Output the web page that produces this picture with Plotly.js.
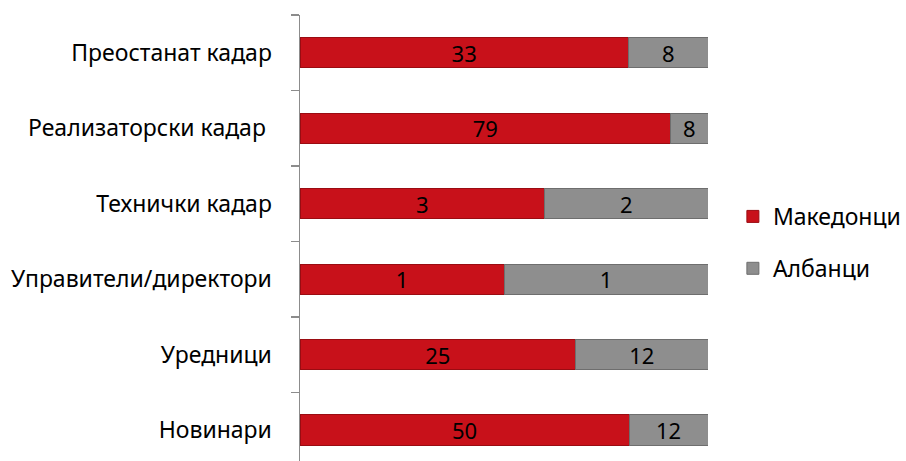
<!DOCTYPE html>
<html><head><meta charset="utf-8">
<script src="https://cdn.plot.ly/plotly-3.0.1.min.js"></script>
<style>body{margin:0;background:#fff}#chart{width:906px;height:461px}</style>
</head><body><div id="chart"></div>
<script>
const categories = ["Новинари","Уредници","Управители/директори","Технички кадар","Реализаторски кадар ","Преостанат кадар"];
const makedonci = [50,25,1,3,79,33];
const albanci = [12,12,1,2,8,8];
const seriesNames = ["Македонци","Албанци"];

const FONT = "Noto Sans, DejaVu Sans, sans-serif";
const traces = [
  {type:'bar', orientation:'h', y:categories, x:makedonci, name:seriesNames[0], legendgroup:'a',
   text:makedonci.map(String), texttemplate:'%{text}', textposition:'inside', insidetextanchor:'middle', textangle:0,
   constraintext:'none',
   textfont:{color:'#000', size:22, family:FONT},
   marker:{color:'#c8111a', line:{color:'#9a0c12', width:1}}, hoverinfo:'none'},
  {type:'bar', orientation:'h', y:categories, x:albanci, name:seriesNames[1], legendgroup:'b',
   text:albanci.map(String), texttemplate:'%{text}', textposition:'inside', insidetextanchor:'middle', textangle:0,
   constraintext:'none',
   textfont:{color:'#000', size:22, family:FONT},
   marker:{color:'#8e8e8e', line:{color:'#6e6e6e', width:1}}, hoverinfo:'none'}
];
const layout = {
  width:906, height:461,
  margin:{l:300, r:198, t:15, b:0, autoexpand:false},
  paper_bgcolor:'#fff', plot_bgcolor:'#fff',
  barmode:'stack', barnorm:'percent', bargap:0.6,
  uniformtext:{mode:false},
  font:{family:FONT, size:22, color:'#000'},
  xaxis:{range:[0,100], showticklabels:false, showgrid:false, zeroline:false, showline:false, fixedrange:true},
  yaxis:{type:'category', range:[-0.41,5.5], showline:true, linecolor:'#8c8c8c', linewidth:1.5,
    ticks:'outside', ticklen:8, tickcolor:'#8c8c8c', tickwidth:1.5, tickson:'boundaries',
    ticklabelstandoff:22, showgrid:false, zeroline:false, tickfont:{size:23, color:'#000', family:FONT}},
  showlegend:true,
  legend:{x:1.061, xanchor:'left', y:0.49, yanchor:'middle', traceorder:'grouped', tracegroupgap:19,
    font:{size:23, color:'#000', family:FONT}, bgcolor:'rgba(0,0,0,0)'}
};
Plotly.newPlot('chart', traces, layout, {displayModeBar:false, staticPlot:true});
</script></body></html>
